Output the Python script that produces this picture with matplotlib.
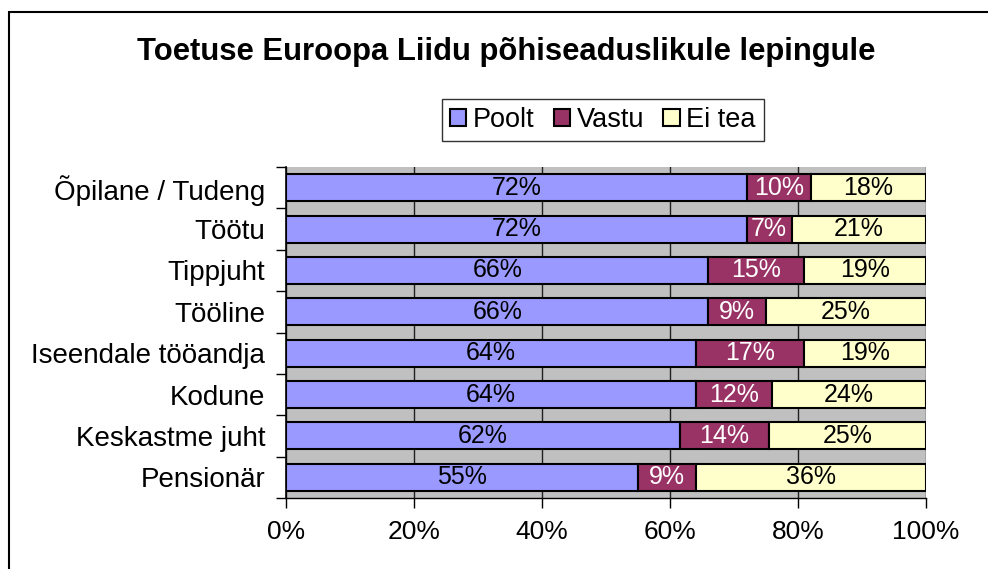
import matplotlib
matplotlib.use("Agg")
import matplotlib.pyplot as plt
import matplotlib.patches as mpatches
import numpy as np

categories = ["Õpilane / Tudeng", "Töötu", "Tippjuht", "Tööline",
              "Iseendale tööandja", "Kodune", "Keskastme juht", "Pensionär"]
poolt = [72, 72, 66, 66, 64, 64, 61.5, 55]
vastu = [10, 7, 15, 9, 17, 12, 14, 9]
ei_tea = [18, 21, 19, 25, 19, 24, 24.5, 36]
series_names = ["Poolt", "Vastu", "Ei tea"]
colors = ["#9999FF", "#993366", "#FFFFCC"]
text_colors = ["black", "white", "black"]
xticks = [0, 20, 40, 60, 80, 100]

plt.rcParams['font.family'] = ['Liberation Sans', 'DejaVu Sans']

W, H = 988, 569
fig = plt.figure(figsize=(W / 100, H / 100), dpi=100)
ax = fig.add_axes([286 / W, 1 - 498 / H, (926 - 286) / W, (498 - 167) / H])
ax.set_facecolor("#C0C0C0")

n = len(categories)
y = np.arange(n)
left = np.zeros(n)
for vals, name, col, tcol in zip([poolt, vastu, ei_tea], series_names, colors, text_colors):
    vals = np.array(vals, dtype=float)
    bars = ax.barh(y, vals, left=left, height=0.65, color=col, edgecolor="black",
                   linewidth=1.5, label=name, zorder=3)
    labels = [f"{int(v + 0.5)}%" for v in vals]
    ax.bar_label(bars, labels=labels, label_type="center", color=tcol, fontsize=18)
    left += vals

ax.set_xlim(0, 100)
ax.set_ylim(n - 0.5, -0.5)
ax.set_xticks(xticks)
ax.set_xticklabels([f"{t}%" for t in xticks], fontsize=19)
ax.tick_params(axis="x", length=7, width=1, direction="out", pad=9)
ax.set_yticks(y)
ax.set_yticklabels(categories, fontsize=20)
ax.tick_params(axis="y", which="major", length=0, pad=15)
ax.set_yticks(np.arange(-0.5, n, 1.0), minor=True)
ax.tick_params(axis="y", which="minor", length=7, width=1, direction="out")
ax.xaxis.grid(True, color="#202020", linewidth=1, zorder=1)
ax.set_axisbelow(True)
for s in ["top", "right"]:
    ax.spines[s].set_visible(False)
ax.spines["left"].set_linewidth(1.2)
ax.spines["bottom"].set_linewidth(1.0)
ax.spines["left"].set_zorder(4)

fig.text(506 / W, 1 - 52 / H, "Toetuse Euroopa Liidu põhiseaduslikule lepingule",
         ha="center", va="center", fontsize=22.3, fontweight="bold")

leg = ax.legend(loc="center", bbox_to_anchor=(603 / W, 1 - 120 / H),
                bbox_transform=fig.transFigure, ncol=3, frameon=True,
                fancybox=False, edgecolor="black", fontsize=19.5,
                handlelength=0.6, handleheight=0.6, handletextpad=0.25,
                columnspacing=0.7, borderpad=0.3, borderaxespad=0)
leg.get_frame().set_linewidth(1.0)

border = mpatches.Rectangle((8.5 / W, -0.1), 1.2, 1.1 - 12.5 / H,
                            transform=fig.transFigure, fill=False,
                            edgecolor="black", linewidth=1.5)
fig.patches.append(border)

fig.savefig("out.png", dpi=100)
